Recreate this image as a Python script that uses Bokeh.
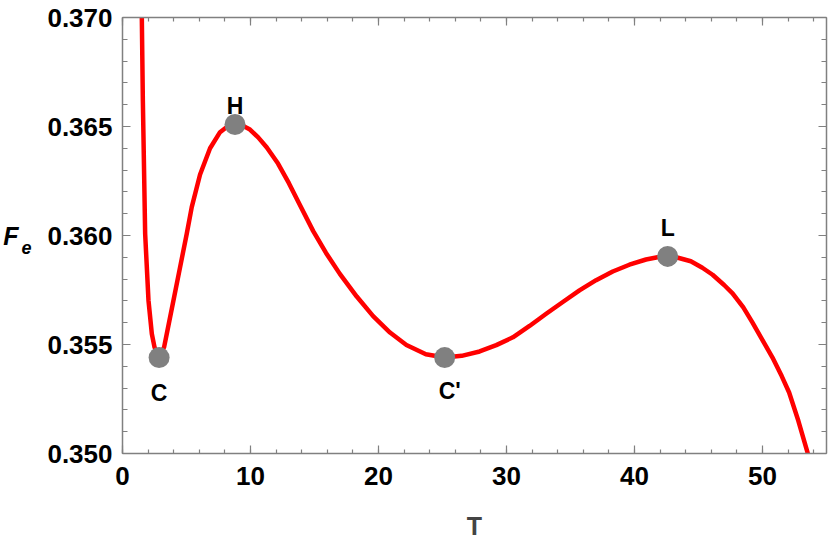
from bokeh.plotting import figure
from bokeh.models import (LinearAxis, FixedTicker, PrintfTickFormatter, Range1d,
                          ColumnDataSource)
from bokeh.core.properties import value
from bokeh.embed import file_html
from bokeh.resources import INLINE

# curve data
T = [1.48, 1.59, 1.77, 2.03, 2.29, 2.50, 2.86, 3.25, 3.46, 3.98, 4.50, 5.02, 5.41,
     6.06, 6.84, 7.62, 8.20, 8.79, 9.40, 9.96, 10.60, 11.26, 12.15, 13.00, 13.86,
     14.90, 15.90, 16.98, 18.30, 19.58, 20.90, 22.18, 23.70, 25.17, 26.50, 27.90,
     29.20, 30.50, 31.80, 33.10, 34.40, 35.70, 37.00, 38.30, 39.60, 40.90, 41.80,
     42.59, 43.40, 44.40, 45.30, 46.10, 47.00, 47.66, 48.50, 49.22, 50.00, 50.78,
     51.50, 52.08, 52.80, 53.51, 53.70]
Fe = [0.37140, 0.36619, 0.36008, 0.35702, 0.35549, 0.35488, 0.35440, 0.35488,
      0.35549, 0.35702, 0.35855, 0.36008, 0.36130, 0.36280, 0.36400, 0.36474,
      0.36500, 0.36509, 0.36503, 0.36486, 0.36450, 0.36405, 0.36330, 0.36240,
      0.36140, 0.36020, 0.35920, 0.35824, 0.35720, 0.35630, 0.35555, 0.35498,
      0.35455, 0.35440, 0.35448, 0.35468, 0.35497, 0.35533, 0.35585, 0.35641,
      0.35695, 0.35748, 0.35795, 0.35835, 0.35866, 0.35890, 0.35900, 0.35904,
      0.35898, 0.35882, 0.35852, 0.35820, 0.35773, 0.35735, 0.35670, 0.35600,
      0.35520, 0.35440, 0.35355, 0.35280, 0.35150, 0.35006, 0.34960]

# special points
pt_names = ["C", "H", "C'", "L"]
pt_T = [2.86, 8.79, 25.17, 42.59]
pt_F = [0.35440, 0.36509, 0.35440, 0.35904]

x_ticks = [0, 10, 20, 30, 40, 50]
x_minor = [v for v in range(0, 56, 2)]
y_ticks = [0.350, 0.355, 0.360, 0.365, 0.370]
y_minor = [0.350 + 0.001 * i for i in range(21)]

# label styling offsets (pixels)
lab_dx = [0, 0, 5, 0]
lab_dy = [35, -19, 33, -28]

FONT = "Liberation Sans"
GRAY = "#808080"
W, H = 830, 547

p = figure(width=W, height=H, output_backend="svg", toolbar_location=None,
           x_range=Range1d(0, 55), y_range=Range1d(0.350, 0.370),
           x_axis_location=None, y_axis_location=None,
           min_border_left=122, min_border_right=4, min_border_top=17,
           min_border_bottom=94)
p.outline_line_color = None
p.xgrid.visible = False
p.ygrid.visible = False
p.background_fill_color = "white"
p.border_fill_color = "white"


def style_axis(ax, show_labels):
    ax.axis_line_color = GRAY
    ax.axis_line_width = 1.5
    ax.major_tick_line_color = GRAY
    ax.minor_tick_line_color = GRAY
    ax.major_tick_line_width = 1.2
    ax.minor_tick_line_width = 1.2
    ax.major_tick_in = 8
    ax.major_tick_out = 0
    ax.minor_tick_in = 4
    ax.minor_tick_out = 0
    if show_labels:
        ax.major_label_text_font = FONT
        ax.major_label_text_font_style = "bold"
        ax.major_label_text_font_size = "26px"
        ax.major_label_text_color = "black"
    else:
        ax.major_label_text_font_size = "0px"
        ax.major_label_standoff = 0


xb = LinearAxis(ticker=FixedTicker(ticks=x_ticks, minor_ticks=x_minor))
style_axis(xb, True)
xb.major_label_standoff = 13
xb.axis_label = "T"
xb.axis_label_text_font = FONT
xb.axis_label_text_font_style = "bold"
xb.axis_label_text_font_size = "25px"
xb.axis_label_standoff = 24
p.add_layout(xb, "below")

xt = LinearAxis(ticker=FixedTicker(ticks=x_ticks, minor_ticks=x_minor))
style_axis(xt, False)
p.add_layout(xt, "above")

yl = LinearAxis(ticker=FixedTicker(ticks=y_ticks, minor_ticks=y_minor),
                formatter=PrintfTickFormatter(format="%.3f"))
style_axis(yl, True)
yl.minor_tick_in = 5
yl.major_label_standoff = 10
p.add_layout(yl, "left")


def label_axis(text, size, standoff):
    ax = LinearAxis(ticker=FixedTicker(ticks=[]), axis_line_color=None,
                    major_tick_line_color=None, minor_tick_line_color=None,
                    major_label_text_font_size="0px", major_label_standoff=0,
                    major_tick_in=0, major_tick_out=0, minor_tick_in=0,
                    minor_tick_out=0)
    ax.axis_label = text
    ax.axis_label_orientation = "horizontal"
    ax.axis_label_text_font = FONT
    ax.axis_label_text_font_style = "bold italic"
    ax.axis_label_text_font_size = size
    ax.axis_label_text_color = "black"
    ax.axis_label_standoff = standoff
    return ax


# y-axis label F_e built from two stacked label-only axes
# (the leading line break drops the subscript "e" below the "F")
p.add_layout(label_axis("\ne", "18px", 13), "left")
p.add_layout(label_axis("F", "25px", 0), "left")

yr = LinearAxis(ticker=FixedTicker(ticks=y_ticks, minor_ticks=y_minor))
style_axis(yr, False)
yr.minor_tick_in = 5
p.add_layout(yr, "right")

p.line(T, Fe, line_color="#ff0000", line_width=4.5, line_join="round")

src = ColumnDataSource(dict(x=pt_T, y=pt_F, name=pt_names, dx=lab_dx, dy=lab_dy))
p.scatter("x", "y", source=src, size=21, fill_color=GRAY, line_color=None)
p.text("x", "y", text="name", source=src, x_offset="dx", y_offset="dy",
       text_align="center", text_baseline="middle", text_font=value(FONT),
       text_font_style="bold", text_font_size="23px", text_color="black")

open("out.html", "w").write(file_html(p, INLINE))
